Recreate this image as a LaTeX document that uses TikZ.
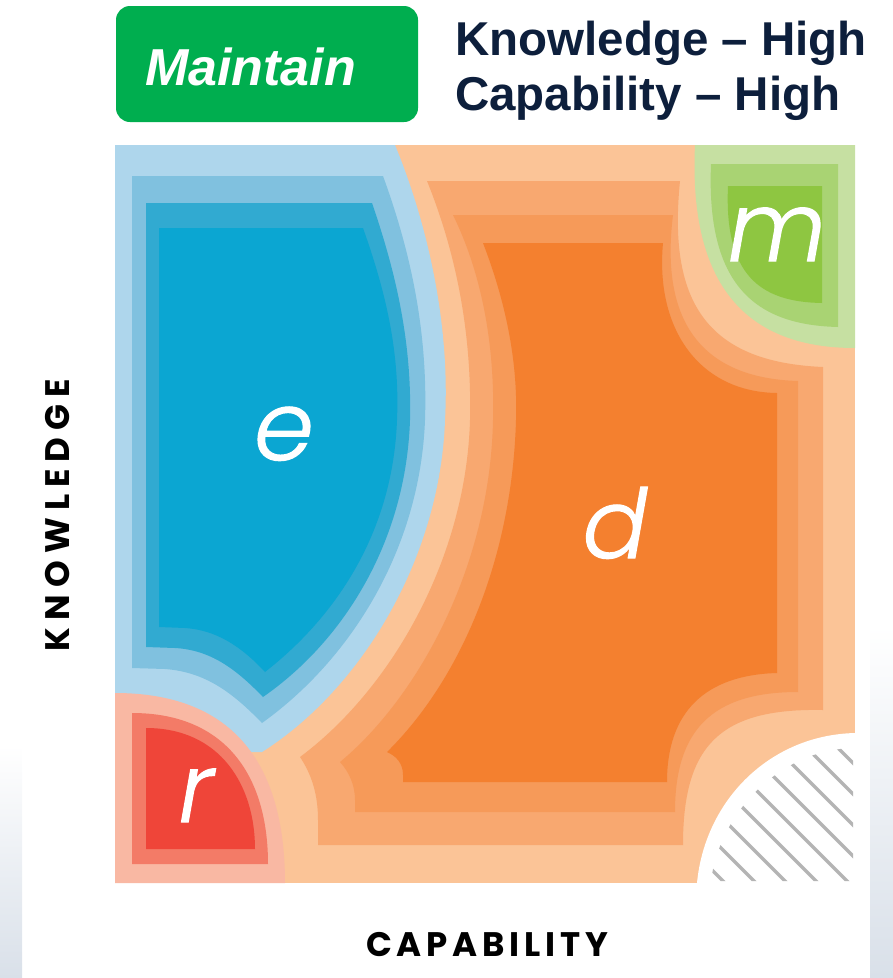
\documentclass[tikz,border=0pt]{standalone}
\usepackage{fontspec}
\newfontfamily\headfont{Liberation Sans}
\newfontfamily\letterfont{Poppins Light Italic}[FakeBold=1.2]
\newfontfamily\axisfont{Poppins}[LetterSpace=14]
\newfontfamily\axiswidefont{Poppins}[LetterSpace=21]

\definecolor{bl1}{HTML}{AED6EC}
\definecolor{bl2}{HTML}{80C1DF}
\definecolor{bl3}{HTML}{31AAD1}
\definecolor{bl4}{HTML}{0BA6D2}
\definecolor{or1}{HTML}{FBC497}
\definecolor{or2}{HTML}{F8A870}
\definecolor{or3}{HTML}{F69A59}
\definecolor{or4}{HTML}{F4802F}
\definecolor{rd1}{HTML}{F9B8A3}
\definecolor{rd2}{HTML}{F37B67}
\definecolor{rd3}{HTML}{EF4539}
\definecolor{gr1}{HTML}{C6E0A2}
\definecolor{gr2}{HTML}{A9D373}
\definecolor{gr3}{HTML}{8EC641}
\definecolor{btn}{HTML}{00AE4F}
\definecolor{navy}{HTML}{0D1F3C}
\definecolor{hatchgray}{HTML}{B4B4B4}
\definecolor{edgegray}{HTML}{D9E0E9}

\tikzset{
  headline/.style={anchor=base west, inner sep=0pt, text=navy,
    font=\headfont\bfseries\fontsize{47.5}{50}\selectfont},
  zoneletter/.style={anchor=base, inner sep=0pt, text=white,
    font=\letterfont\fontsize{96}{96}\selectfont},
  axislabel/.style={inner sep=0pt, text=black},
  hatchline/.style={draw=hatchgray, line width=3.5pt},
  fade/.style={top color=white, bottom color=edgegray, draw=none}
}

\begin{document}
\begin{tikzpicture}[x=1pt,y=-1pt]
\useasboundingbox (0,0) rectangle (893,978);

% faint shaded strips at the page edges
\shade[fade] (870,625) rectangle (893,978);
\shade[fade] (0,745) rectangle (22,978);

% base of the square: lightest orange
\fill[or1] (115,145) rectangle (855,883);

% orange zone d, outer to inner
\fill[or2] (427,181) -- (680,181) .. controls (668,300) and (705,362) .. (823,367)
  -- (823,710) .. controls (720,708) and (683,745) .. (683,845)
  -- (318,845) -- (318,820) .. controls (318,795) and (312,775) .. (300,757)
  .. controls (390,690) and (466,560) .. (470,420)
  .. controls (472,330) and (455,250) .. (427,181) -- cycle;
\fill[or3] (453,215) -- (673,215) .. controls (660,320) and (700,378) .. (798,381)
  -- (798,692) .. controls (712,692) and (675,730) .. (675,812)
  -- (355,812) -- (355,800) .. controls (355,785) and (349,772) .. (340,762)
  .. controls (415,700) and (490,570) .. (493,420)
  .. controls (495,340) and (480,270) .. (453,215) -- cycle;
\fill[or4] (483,243) -- (663,243) .. controls (655,330) and (700,392) .. (777,393)
  -- (777,673) .. controls (705,675) and (667,712) .. (667,782)
  -- (403,782) -- (403,775) .. controls (403,763) and (396,756) .. (387,752)
  .. controls (460,680) and (512,560) .. (516,420)
  .. controls (518,360) and (505,300) .. (483,243) -- cycle;

% blue zone e, outer to inner
\fill[bl1] (115,145) -- (395,145) .. controls (430,230) and (450,330) .. (445,420)
  .. controls (440,560) and (360,690) .. (262,752) -- (115,752) -- cycle;
\fill[bl2] (132,176) -- (383,176) .. controls (410,250) and (428,330) .. (425,420)
  .. controls (420,550) and (350,660) .. (262,723)
  .. controls (232,692) and (205,672) .. (165,669) -- (132,668) -- cycle;
\fill[bl3] (146,203) -- (372,203) .. controls (395,270) and (412,340) .. (410,420)
  .. controls (406,540) and (345,640) .. (263,697)
  .. controls (235,668) and (210,650) .. (175,648) -- (146,647) -- cycle;
\fill[bl4] (159,228) -- (363,228) .. controls (385,290) and (400,350) .. (397,420)
  .. controls (393,530) and (338,615) .. (265,672)
  .. controls (240,645) and (215,630) .. (185,628) -- (159,627) -- cycle;

% red zone r
\fill[rd1] (115,693) .. controls (230,693) and (285,760) .. (285,883) -- (115,883) -- cycle;
\fill[rd2] (132,713) .. controls (225,713) and (268,775) .. (268,864) -- (132,864) -- cycle;
\fill[rd3] (146,728) .. controls (220,728) and (255,785) .. (255,849) -- (146,849) -- cycle;

% green zone m
\fill[gr1] (695,145) -- (855,145) -- (855,348)
  .. controls (755,348) and (688,295) .. (695,145) -- cycle;
\fill[gr2] (711,164) -- (838,164) -- (838,327)
  .. controls (755,325) and (706,285) .. (711,164) -- cycle;
\fill[gr3] (728,186) -- (822,186) -- (822,303)
  .. controls (760,302) and (724,275) .. (728,186) -- cycle;

% hatched corner
\fill[white] (697,883) .. controls (705,800) and (770,735) .. (855,733) -- (855,883) -- cycle;
\begin{scope}
  \clip (711,881) .. controls (720,812) and (780,750) .. (853,748) -- (853,881) -- cycle;
  \foreach \c in {-158,-127,...,100}
    \draw[hatchline] (680+\c,680) -- (900+\c,900);
\end{scope}

% zone letters
\node[zoneletter] (e) at (284,460) {e};
\node[zoneletter] (d) at (615,558) {d};
\node[zoneletter] (m) at (777,261) {m};
\node[zoneletter] (r) at (196,822) {r};

% axis labels
\node[axislabel, rotate=90, font=\axiswidefont\bfseries\fontsize{34}{34}\selectfont]
  (knowledge) at (58,515) {KNOWLEDGE};
\node[axislabel, font=\axisfont\bfseries\fontsize{34}{34}\selectfont]
  (capability) at (487,945) {CAPABILITY};

% heading
\node[fill=btn, rounded corners=14pt, minimum width=302pt, minimum height=116pt,
  inner sep=0pt] (button) at (267,64) {};
\node[anchor=base west, inner sep=0pt, text=white,
  font=\headfont\bfseries\itshape\fontsize{52}{52}\selectfont] (maintain) at (145,85) {Maintain};
\node[headline] (line1) at (455,55) {Knowledge – High};
\node[headline] (line2) at (455,110) {Capability – High};
\end{tikzpicture}
\end{document}
